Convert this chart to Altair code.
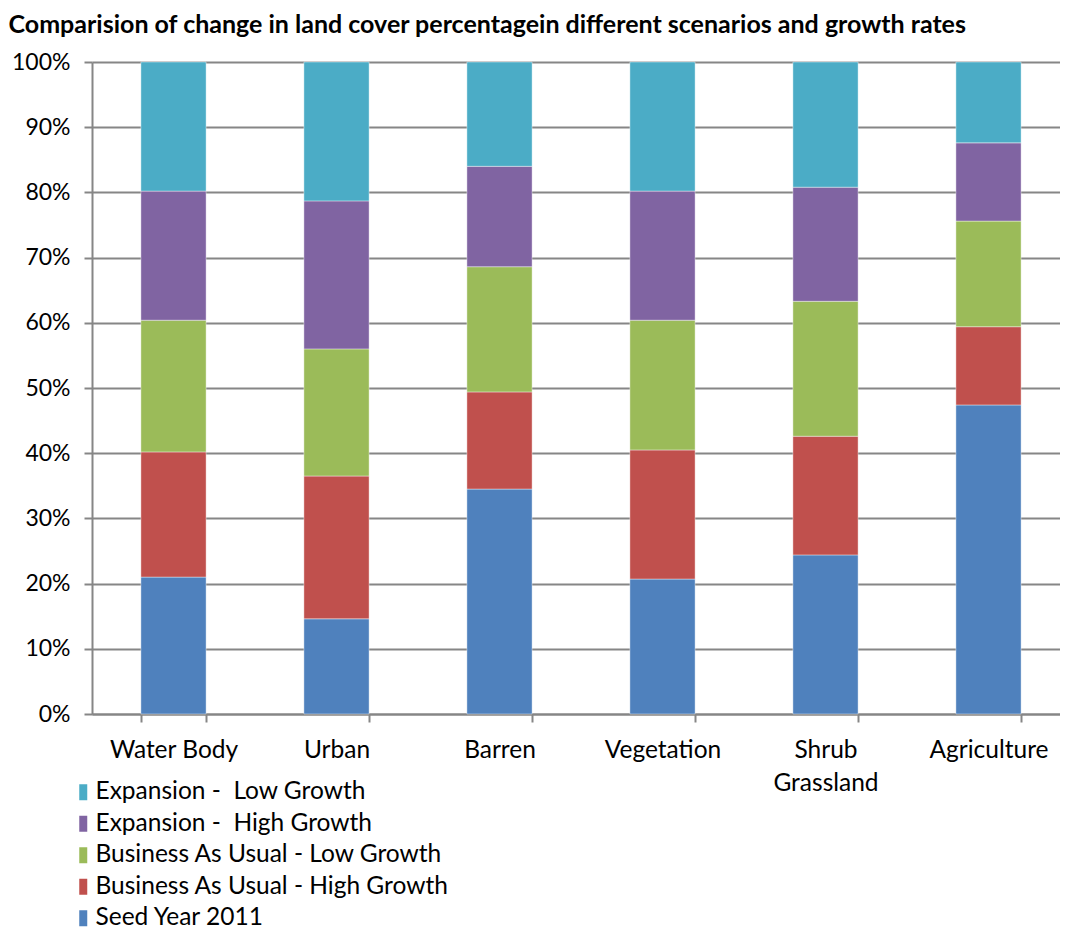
import altair as alt
import pandas as pd

categories = ["Water Body", "Urban", "Barren", "Vegetation", "Shrub Grassland", "Agriculture"]
seed_2011 = [21.0, 14.6, 34.5, 20.7, 24.4, 47.4]
bau_high = [19.2, 21.9, 14.9, 19.8, 18.2, 12.0]
bau_low = [20.2, 19.5, 19.2, 19.9, 20.7, 16.2]
exp_high = [19.8, 22.7, 15.4, 19.8, 17.5, 12.0]
exp_low = [19.8, 21.3, 16.0, 19.8, 19.2, 12.4]

series_names = [
    "Seed Year 2011",
    "Business As Usual - High Growth",
    "Business As Usual - Low Growth",
    "Expansion -\u00a0 High Growth",
    "Expansion -\u00a0 Low Growth",
]
series_colors = ["#4F81BD", "#C0504D", "#9BBB59", "#8064A2", "#4BACC6"]
series_values = [seed_2011, bau_high, bau_low, exp_high, exp_low]

rows = []
for si, (name, vals) in enumerate(zip(series_names, series_values)):
    for cat, v in zip(categories, vals):
        rows.append({"category": cat, "series": name, "value": v, "idx": si})
df = pd.DataFrame(rows)

legend_order = series_names[::-1]
legend_colors = series_colors[::-1]

FONT = "Lato"
GRID = "#868686"

chart = alt.Chart(df).mark_bar(stroke="#ffffff", strokeWidth=0.8, strokeOpacity=0.5).encode(
    x=alt.X(
        "category:N",
        sort=categories,
        scale=alt.Scale(paddingInner=0.6, paddingOuter=0.3, range=[0, 978]),
        axis=alt.Axis(
            title=None, labelAngle=0, tickBand="extent", labelFontSize=24.5, labelFont=FONT,
            labelColor="#000000", tickColor=GRID, tickWidth=2, tickSize=8, domainColor=GRID,
            domainWidth=2, labelPadding=16,
            labelExpr="datum.value == 'Shrub Grassland' ? ['Shrub', 'Grassland'] : datum.label",
            labelLineHeight=33,
        ),
    ),
    y=alt.Y(
        "value:Q",
        stack="normalize",
        scale=alt.Scale(domain=[0, 1]),
        axis=alt.Axis(
            title=None, format=".0%", values=[i / 10 for i in range(11)], labelFontSize=23,
            labelFont=FONT, labelColor="#000000", tickColor=GRID, tickWidth=2, tickSize=8,
            domainColor=GRID, domainWidth=2, gridColor=GRID, gridWidth=2, labelPadding=14,
        ),
    ),
    color=alt.Color(
        "series:N",
        scale=alt.Scale(domain=legend_order, range=legend_colors),
        legend=alt.Legend(
            title=None, orient="none", legendX=-21, legendY=718, direction="vertical",
            labelFont=FONT, labelFontSize=24.5, labelColor="#000000",
            symbolType="M-0.5,-1L0.5,-1L0.5,1L-0.5,1Z", symbolSize=256, symbolStrokeWidth=0,
            rowPadding=6.5, labelOffset=0, labelLimit=600,
        ),
    ),
    order=alt.Order("idx:Q", sort="ascending"),
).properties(
    width=968,
    height=652,
    autosize=alt.AutoSizeParams(type="none"),
    padding={"left": 84, "top": 54, "right": 0, "bottom": 218},
    title=alt.Title(
        "Comparision of change in land cover percentagein different scenarios and growth rates",
        anchor="start", font=FONT, fontSize=25, fontWeight="bold", color="#000000",
        frame="bounds", dx=-3, dy=-9,
    ),
).configure_view(strokeWidth=0)

chart.save("out.html", embed_options={"renderer": "svg", "actions": False})
